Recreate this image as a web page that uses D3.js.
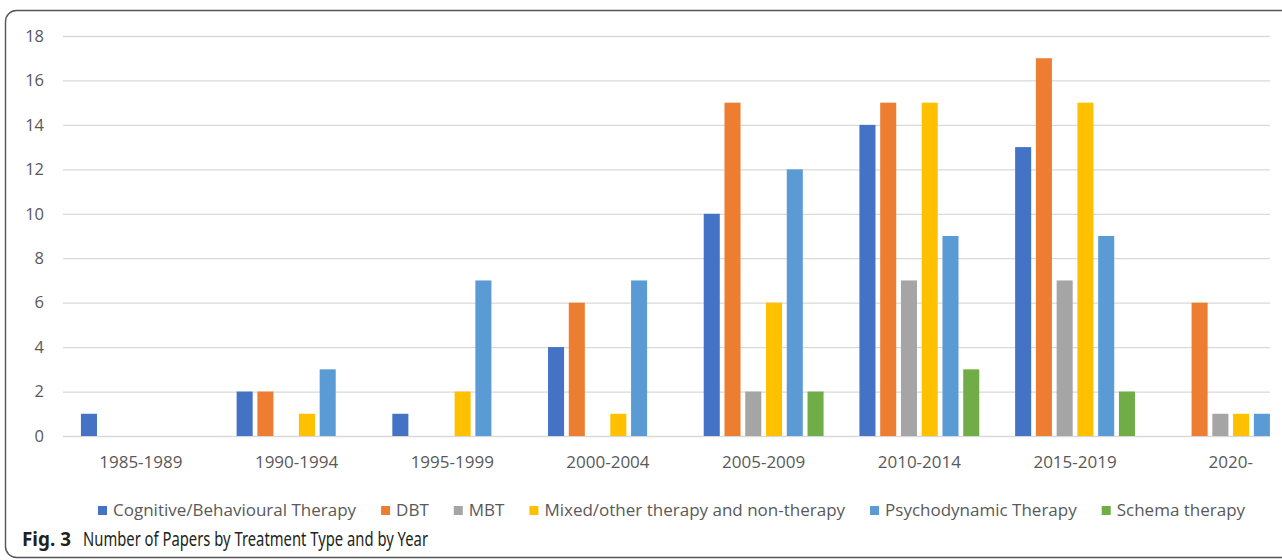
<!DOCTYPE html>
<html>
<head>
<meta charset="utf-8">
<script src="https://cdn.jsdelivr.net/npm/d3@7"></script>
<style>
  body { margin: 0; background: #fff; }
  svg { display: block; }
</style>
</head>
<body>
<svg id="chart"></svg>
<script>
// periods on the x axis
var periods = ['1985-1989', '1990-1994', '1995-1999', '2000-2004', '2005-2009', '2010-2014', '2015-2019', '2020-']
var treatments = ['Cognitive/Behavioural Therapy', 'DBT', 'MBT', 'Mixed/other therapy and non-therapy', 'Psychodynamic Therapy', 'Schema therapy']
var colors = ['#4472c4', '#ed7d31', '#a5a5a5', '#ffc000', '#5b9bd5', '#70ad47']

// one array per treatment, values per period
var cbt    = [1, 2, 1, 4, 10, 14, 13, 0]
var dbt    = [0, 2, 0, 6, 15, 15, 17, 6]
var mbt    = [0, 0, 0, 0, 2, 7, 7, 1]
var mixed  = [0, 1, 2, 1, 6, 15, 15, 1]
var psycho = [0, 3, 7, 7, 12, 9, 9, 1]
var schema = [0, 0, 0, 0, 2, 3, 2, 0]
var series = [cbt, dbt, mbt, mixed, psycho, schema]

var yTicks = [0, 2, 4, 6, 8, 10, 12, 14, 16, 18]

var width = 1282,
    height = 560

var svg = d3.select('#chart')
    .attr('width', width)
    .attr('height', height)

// frame round the figure
svg.append('rect')
    .attr('x', 5.5)
    .attr('y', 10.5)
    .attr('width', 1400)
    .attr('height', 547)
    .attr('rx', 11)
    .attr('fill', 'none')
    .attr('stroke', '#555')
    .attr('stroke-width', 1.4)

var x0 = d3.scaleBand()
    .domain(periods)
    .range([63, 63 + 8 * 155.7])
    .paddingInner(0.2)
    .paddingOuter(0.1)

var x1 = d3.scaleBand()
    .domain(treatments)
    .range([0, x0.bandwidth()])
    .paddingInner(0.227)
    .paddingOuter(0.1135)

var y = d3.scaleLinear()
    .domain([0, 18])
    .range([436, 36])

// gridlines
svg.append('g').selectAll('line').data(yTicks)
    .enter()
    .append('line')
    .attr('x1', 63)
    .attr('x2', 1270)
    .attr('y1', function(d){ return y(d) + 0.5 })
    .attr('y2', function(d){ return y(d) + 0.5 })
    .attr('stroke', '#d9d9d9')
    .attr('stroke-width', 1.3)

// y labels
svg.append('g').selectAll('text').data(yTicks)
    .enter()
    .append('text')
    .attr('x', 44)
    .attr('y', function(d){ return y(d) })
    .attr('dy', '0.35em')
    .attr('text-anchor', 'end')
    .attr('fill', '#595959')
    .style('font', '16.5px "Open Sans", sans-serif')
    .text(function(d){ return d })

// bars
var rows = periods.map(function(p, i) {
    return { period: p, vals: treatments.map(function(t, j){ return { key: t, value: series[j][i], color: colors[j] } }) }
})

var groups = svg.append('g').selectAll('g').data(rows)
    .enter()
    .append('g')
    .attr('transform', function(d){ return 'translate(' + x0(d.period) + ',0)' })

groups.selectAll('rect').data(function(d){ return d.vals })
    .enter()
    .append('rect')
    .attr('x', function(d){ return x1(d.key) })
    .attr('y', function(d){ return y(d.value) })
    .attr('width', x1.bandwidth())
    .attr('height', function(d){ return y(0) - y(d.value) })
    .attr('fill', function(d){ return d.color })

// x labels
svg.append('g').selectAll('text').data(periods)
    .enter()
    .append('text')
    .attr('x', function(d){ return x0(d) + x0.bandwidth() / 2 })
    .attr('y', 468)
    .attr('text-anchor', 'middle')
    .attr('fill', '#595959')
    .style('font', '17px "Open Sans", sans-serif')
    .text(function(d){ return d })

// legend
var legend = svg.append('g')
var lx = 98
treatments.forEach(function(t, i) {
    legend.append('rect')
        .attr('x', lx)
        .attr('y', 506)
        .attr('width', 9)
        .attr('height', 9)
        .attr('fill', colors[i])
    var txt = legend.append('text')
        .attr('x', lx + 15)
        .attr('y', 516)
        .attr('fill', '#595959')
        .style('font', '17px "Open Sans", sans-serif')
        .text(t)
    lx += 15 + txt.node().getComputedTextLength() + 25
})

// caption
var cap = svg.append('text')
    .attr('x', 22)
    .attr('y', 546)
    .attr('fill', '#231f20')
    .style('font', '19px "Noto Sans", sans-serif')
cap.append('tspan')
    .style('font-weight', 'bold')
    .attr('textLength', 49)
    .attr('lengthAdjust', 'spacingAndGlyphs')
    .text('Fig. 3')
cap.append('tspan')
    .attr('x', 83)
    .attr('textLength', 345)
    .attr('lengthAdjust', 'spacingAndGlyphs')
    .text('Number of Papers by Treatment Type and by Year')
</script>
</body>
</html>
